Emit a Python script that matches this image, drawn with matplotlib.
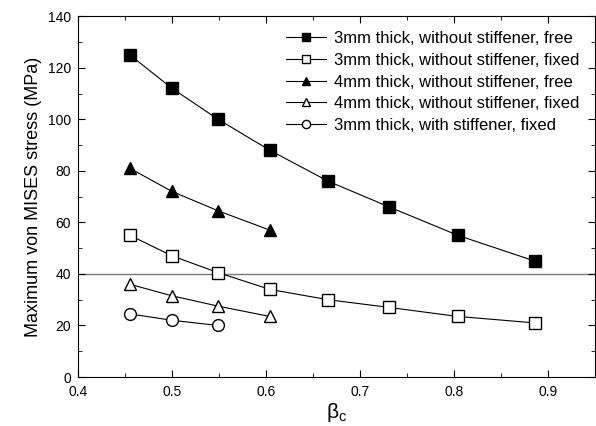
import matplotlib

matplotlib.use("Agg")

import matplotlib.pyplot as plt
from matplotlib.ticker import MultipleLocator

plt.rcParams["font.family"] = ["Liberation Sans", "DejaVu Sans"]

beta_c = [0.455, 0.5, 0.549, 0.604, 0.666, 0.731, 0.804, 0.886]
t3_free = [125, 112, 100, 88, 76, 66, 55, 45]
t3_fixed = [55, 47, 40.5, 34, 30, 27, 23.5, 21]
t4_free = [81, 72, 64.5, 57]
t4_fixed = [36, 31.5, 27.5, 23.5]
t3_stiff_fixed = [24.5, 22, 20]
limit_stress = 40

labels = [
    "3mm thick, without stiffener, free",
    "3mm thick, without stiffener, fixed",
    "4mm thick, without stiffener, free",
    "4mm thick, without stiffener, fixed",
    "3mm thick, with stiffener, fixed",
]

fig = plt.figure(figsize=(5.96, 4.26), dpi=100)
ax = fig.add_axes([0.131, 0.115, 0.867, 0.847])

ax.axhline(limit_stress, color="#777777", lw=1.0, zorder=1)

common = dict(color="black", lw=0.8, ms=8.5, mew=1.0, zorder=3)
ax.plot(beta_c, t3_free, "-s", mfc="black", label=labels[0], **common)
ax.plot(beta_c, t3_fixed, "-s", mfc="white", label=labels[1], **common)
ax.plot(beta_c[:4], t4_free, "-^", mfc="black", label=labels[2], **common)
ax.plot(beta_c[:4], t4_fixed, "-^", mfc="white", label=labels[3], **common)
ax.plot(beta_c[:3], t3_stiff_fixed, "-o", mfc="white", label=labels[4], **common)

ax.set_xlim(0.4, 0.95)
ax.set_ylim(0, 140)
ax.xaxis.set_major_locator(MultipleLocator(0.1))
ax.xaxis.set_minor_locator(MultipleLocator(0.05))
ax.yaxis.set_major_locator(MultipleLocator(20))
ax.yaxis.set_minor_locator(MultipleLocator(10))
ax.tick_params(which="both", direction="in", top=True, right=True, labelsize=10)
ax.tick_params(which="major", length=5)
ax.tick_params(which="minor", length=3)
ax.tick_params(axis="x", pad=6)
ax.tick_params(axis="y", pad=5)

ax.set_ylabel("Maximum von MISES stress (MPa)", fontsize=13)
ax.set_xlabel(r"$\mathregular{\beta_c}$", fontsize=15, labelpad=1)

ax.legend(
    loc="upper right",
    frameon=False,
    fontsize=12,
    markerscale=0.7,
    handlelength=2.4,
    handletextpad=0.5,
    labelspacing=0.4,
    bbox_to_anchor=(1.0, 1.0),
)

fig.savefig("out.png", dpi=100)
